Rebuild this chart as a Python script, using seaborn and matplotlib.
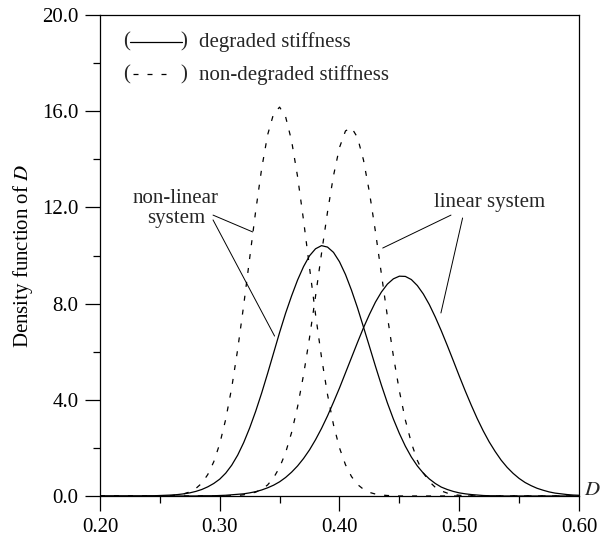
import numpy as np
import pandas as pd
import matplotlib
matplotlib.use("Agg")
import matplotlib.pyplot as plt
import seaborn as sns

# ---- data ----
D_values = [0.200, 0.205, 0.210, 0.215, 0.220, 0.225, 0.230, 0.235, 0.240, 0.245,
            0.250, 0.255, 0.260, 0.265, 0.270, 0.275, 0.280, 0.285, 0.290, 0.295,
            0.300, 0.305, 0.310, 0.315, 0.320, 0.325, 0.330, 0.335, 0.340, 0.345,
            0.350, 0.355, 0.360, 0.365, 0.370, 0.375, 0.380, 0.385, 0.390, 0.395,
            0.400, 0.405, 0.410, 0.415, 0.420, 0.425, 0.430, 0.435, 0.440, 0.445,
            0.450, 0.455, 0.460, 0.465, 0.470, 0.475, 0.480, 0.485, 0.490, 0.495,
            0.500, 0.505, 0.510, 0.515, 0.520, 0.525, 0.530, 0.535, 0.540, 0.545,
            0.550, 0.555, 0.560, 0.565, 0.570, 0.575, 0.580, 0.585, 0.590, 0.595,
            0.600]

nonlinear_degraded = [0, 0, 0, 0, 0, 0, 0, 0, 0.01, 0.01,
                      0.02, 0.03, 0.04, 0.06, 0.09, 0.13, 0.19, 0.27, 0.38, 0.52,
                      0.70, 0.95, 1.28, 1.70, 2.22, 2.83, 3.52, 4.28, 5.10, 5.95,
                      6.80, 7.60, 8.32, 8.98, 9.54, 9.99, 10.28, 10.41, 10.35, 10.13,
                      9.74, 9.21, 8.56, 7.83, 7.03, 6.22, 5.40, 4.61, 3.87, 3.20,
                      2.60, 2.07, 1.62, 1.25, 0.95, 0.71, 0.52, 0.37, 0.27, 0.19,
                      0.13, 0.09, 0.06, 0.04, 0.02, 0.01, 0.01, 0, 0, 0,
                      0, 0, 0, 0, 0, 0, 0, 0, 0, 0,
                      0]

linear_degraded = [0, 0, 0, 0, 0, 0, 0, 0, 0, 0,
                   0, 0, 0, 0, 0, 0, 0, 0.01, 0.01, 0.01,
                   0.02, 0.03, 0.05, 0.07, 0.09, 0.13, 0.18, 0.25, 0.34, 0.45,
                   0.59, 0.77, 0.99, 1.25, 1.56, 1.92, 2.34, 2.81, 3.33, 3.90,
                   4.49, 5.12, 5.75, 6.38, 6.99, 7.55, 8.06, 8.48, 8.81, 9.03,
                   9.14, 9.13, 9.00, 8.75, 8.40, 7.96, 7.44, 6.87, 6.26, 5.63,
                   4.99, 4.37, 3.78, 3.22, 2.71, 2.25, 1.85, 1.49, 1.19, 0.94,
                   0.73, 0.56, 0.43, 0.32, 0.24, 0.17, 0.12, 0.09, 0.06, 0.04,
                   0.03]

nonlinear_nondegraded = [0, 0, 0, 0, 0, 0, 0, 0, 0, 0,
                         0, 0.01, 0.02, 0.05, 0.09, 0.17, 0.31, 0.53, 0.89, 1.42,
                         2.17, 3.19, 4.50, 6.10, 7.93, 9.89, 11.84, 13.61, 15.02, 15.90,
                         16.17, 15.77, 14.77, 13.28, 11.46, 9.49, 7.55, 5.76, 4.22, 2.96,
                         2.00, 1.30, 0.81, 0.48, 0.28, 0.15, 0.08, 0.04, 0.02, 0.01,
                         0, 0, 0, 0, 0, 0, 0, 0, 0, 0,
                         0, 0, 0, 0, 0, 0, 0, 0, 0, 0,
                         0, 0, 0, 0, 0, 0, 0, 0, 0, 0,
                         0]

linear_nondegraded = [0, 0, 0, 0, 0, 0, 0, 0, 0, 0,
                      0, 0, 0, 0, 0, 0, 0, 0, 0, 0,
                      0, 0, 0.01, 0.02, 0.05, 0.09, 0.16, 0.27, 0.46, 0.76,
                      1.19, 1.80, 2.64, 3.71, 5.04, 6.59, 8.31, 10.09, 11.81, 13.32,
                      14.49, 15.18, 15.32, 14.91, 13.98, 12.63, 11.00, 9.23, 7.47, 5.82,
                      4.37, 3.16, 2.21, 1.48, 0.96, 0.60, 0.36, 0.21, 0.12, 0.06,
                      0.03, 0.01, 0.01, 0, 0, 0, 0, 0, 0, 0,
                      0, 0, 0, 0, 0, 0, 0, 0, 0, 0,
                      0]

x_ticks = [0.20, 0.30, 0.40, 0.50, 0.60]
x_tick_labels = ["0.20", "0.30", "0.40", "0.50", "0.60"]
y_ticks = [0.0, 4.0, 8.0, 12.0, 16.0, 20.0]
y_tick_labels = ["0.0", "4.0", "8.0", "12.0", "16.0", "20.0"]
legend_labels = ["degraded stiffness", "non-degraded stiffness"]

# ---- long table ----
frames = []
for name, system, stiff in [(nonlinear_degraded, "non-linear", "degraded"),
                            (linear_degraded, "linear", "degraded"),
                            (nonlinear_nondegraded, "non-linear", "non-degraded"),
                            (linear_nondegraded, "linear", "non-degraded")]:
    frames.append(pd.DataFrame({"D": D_values, "density": name,
                                "system": system + " " + stiff,
                                "stiffness": stiff}))
df = pd.concat(frames, ignore_index=True)

sns.set_style("ticks")
plt.rcParams["font.family"] = ["Liberation Serif", "DejaVu Serif"]
plt.rcParams["mathtext.fontset"] = "stix"

FS = 15
DASH = (4.0, 7.2)

fig = plt.figure(figsize=(6.03, 5.46), dpi=100)
ax = fig.add_axes([0.1658, 0.0916, 0.9602 - 0.1658, 0.9725 - 0.0916])

sns.lineplot(data=df, x="D", y="density", style="stiffness", units="system",
             estimator=None, color="black", linewidth=0.9,
             dashes={"degraded": "", "non-degraded": DASH},
             legend=False, ax=ax, sort=False)

ax.set_xlim(0.20, 0.60)
ax.set_ylim(0.0, 20.0)
ax.set_xticks(x_ticks)
ax.set_xticklabels(x_tick_labels)
ax.set_xticks([0.25, 0.35, 0.45, 0.55], minor=True)
ax.set_yticks(y_ticks)
ax.set_yticklabels(y_tick_labels)
ax.set_yticks([2, 6, 10, 14, 18], minor=True)
ax.tick_params(axis="both", which="major", direction="out", length=10.5,
               width=0.9, labelsize=FS, pad=5, color="black", labelcolor="black")
ax.tick_params(axis="both", which="minor", direction="out", length=5.3,
               width=0.9, color="black")
for s in ax.spines.values():
    s.set_visible(True)
    s.set_linewidth(0.9)
    s.set_color("black")

ax.set_xlabel("")
ax.set_ylabel(r"Density function of $D$", fontsize=FS, color="black")
ax.yaxis.set_label_coords(-0.136, 0.5)
ax.text(1.027, 0.012, r"$D$", transform=ax.transAxes, fontsize=FS,
        ha="center", va="center", clip_on=False)

# ---- custom legend: (——) degraded stiffness / (- - -) non-degraded stiffness ----
tr = ax.transAxes
rows = [0.944, 0.875]
for yrow, lab in [(rows[0], legend_labels[0]), (rows[1], legend_labels[1])]:
    ax.text(0.055, yrow, "(", transform=tr, fontsize=FS, ha="center", va="center")
    ax.text(0.176, yrow, ")", transform=tr, fontsize=FS, ha="center", va="center")
    ax.text(0.207, yrow, lab, transform=tr, fontsize=FS, ha="left", va="center")
ax.plot([0.063, 0.171], [rows[0], rows[0]], transform=tr, color="black", lw=0.9)
ax.plot([0.068, 0.142], [rows[1] + 0.003, rows[1] + 0.003], transform=tr,
        color="black", lw=0.9, linestyle=(0, DASH))

# ---- annotations ----
ax.text(0.2633, 11.95, "non-linear\nsystem", fontsize=FS, ha="center", va="center",
        multialignment="center", linespacing=1.05)
ax.annotate("", xy=(0.3275, 10.98), xytext=(0.2944, 11.68),
            arrowprops=dict(arrowstyle="-", lw=0.7, color="black", shrinkA=0, shrinkB=0))
ax.annotate("", xy=(0.3458, 6.65), xytext=(0.2944, 11.48),
            arrowprops=dict(arrowstyle="-", lw=0.7, color="black", shrinkA=0, shrinkB=0))

ax.text(0.525, 12.22, "linear system", fontsize=FS, ha="center", va="center")
ax.annotate("", xy=(0.4361, 10.31), xytext=(0.4931, 11.68),
            arrowprops=dict(arrowstyle="-", lw=0.7, color="black", shrinkA=0, shrinkB=0))
ax.annotate("", xy=(0.4847, 7.61), xytext=(0.5028, 11.56),
            arrowprops=dict(arrowstyle="-", lw=0.7, color="black", shrinkA=0, shrinkB=0))

fig.savefig("out.png", dpi=100, facecolor="white")
